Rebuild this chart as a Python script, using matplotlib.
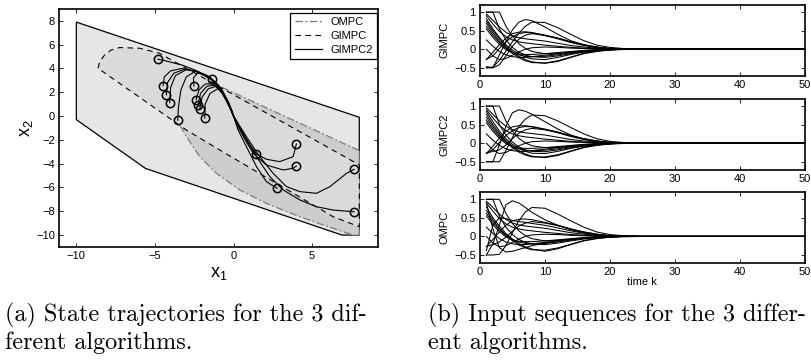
import matplotlib.pyplot as plt
from matplotlib.lines import Line2D

plt.rcParams['font.family'] = ['Liberation Sans', 'DejaVu Sans']
plt.rcParams['mathtext.default'] = 'regular'

# ---------------- left panel: regions in the (x1, x2) plane ----------------
outer_x = [-10, 8, 8, 6.9, -5.6, -10]
outer_y = [7.9, -0.1, -10, -10, -4.4, -0.3]

ompc_x = [-4.9, 8, 8, 7.61, 6.34, 4.22, 2.09, 0.40, -1.09, -2.15, -3.0, -3.53, -4.06, -4.48]
ompc_y = [4.95, -2.9, -10, -10.0, -9.44, -8.46, -7.34, -6.21, -4.81, -3.41, -1.73, -0.47, 0.80, 2.76]

gimpc_x = [-8.62, -8.51, -8.2, -7.77, -7.24, -5.97, -4.70, -3.8, 8, 8, 6.34, -0.88, -3.0]
gimpc_y = [4.02, 4.58, 5.14, 5.56, 5.76, 5.70, 5.28, 4.6, -4.1, -9.3, -8.46, -2.85, -1.17]

# state trajectories (first point = initial state, marked by a circle)
traj_x = [
    [-4.80, -4.2, -3.3, -2.5, -1.6, -0.9, -0.45, -0.15, 0.0],
    [-4.48, -4.4, -4.0, -3.3, -2.5, -1.5, -0.8, -0.4, -0.12, 0.0],
    [-4.27, -4.2, -3.8, -3.1, -2.3, -1.4, -0.75, -0.35, -0.1, 0.0],
    [-4.06, -4.0, -3.7, -3.0, -2.2, -1.35, -0.7, -0.3, -0.08, 0.0],
    [-3.55, -3.5, -3.35, -3.0, -2.4, -1.5, -0.8, -0.35, -0.1, 0.0],
    [-2.52, -2.55, -2.3, -1.8, -1.2, -0.7, -0.35, -0.1, 0.0],
    [-2.38, -2.2, -1.8, -1.3, -0.8, -0.45, -0.15, 0.0],
    [-2.26, -2.1, -1.7, -1.2, -0.75, -0.4, -0.12, 0.0],
    [-2.15, -2.0, -1.6, -1.1, -0.7, -0.38, -0.1, 0.0],
    [-1.83, -1.8, -1.5, -1.0, -0.6, -0.3, -0.08, 0.0],
    [-1.37, -0.95, -0.6, -0.3, -0.08, 0.0],
    [4.0, 3.79, 2.94, 2.09, 1.46, 0.82, 0.29, 0.0],
    [4.0, 3.79, 3.16, 2.09, 1.25, 0.7, 0.25, 0.0],
    [7.67, 7.19, 6.13, 5.28, 4.22, 3.37, 2.52, 1.67, 0.82, 0.29, 0.0],
    [7.67, 6.34, 5.28, 4.22, 3.16, 2.31, 1.46, 0.61, 0.2, 0.0],
    [2.77, 2.09, 1.46, 0.82, 0.29, 0.0],
    [1.46, 1.1, 0.7, 0.3, 0.0],
]
traj_y = [
    [4.78, 4.6, 4.3, 3.9, 3.3, 2.4, 1.4, 0.5, 0.0],
    [2.56, 3.3, 3.8, 4.0, 3.8, 3.2, 2.3, 1.3, 0.45, 0.0],
    [1.78, 2.8, 3.6, 3.95, 3.75, 3.1, 2.2, 1.2, 0.4, 0.0],
    [1.13, 2.4, 3.4, 3.9, 3.7, 3.0, 2.1, 1.1, 0.35, 0.0],
    [-0.35, 0.8, 2.2, 3.3, 3.8, 3.3, 2.3, 1.2, 0.4, 0.0],
    [2.53, 3.2, 3.6, 3.5, 2.9, 2.0, 1.1, 0.35, 0.0],
    [1.38, 2.2, 2.7, 2.7, 2.1, 1.3, 0.45, 0.0],
    [0.94, 1.9, 2.5, 2.6, 2.0, 1.2, 0.4, 0.0],
    [0.57, 1.6, 2.3, 2.5, 1.9, 1.1, 0.35, 0.0],
    [-0.18, 1.0, 1.9, 2.3, 1.8, 1.0, 0.3, 0.0],
    [3.09, 2.6, 1.8, 1.0, 0.3, 0.0],
    [-2.34, -3.41, -3.83, -3.63, -3.19, -2.0, -0.89, 0.0],
    [-4.2, -4.39, -4.53, -4.11, -3.13, -1.9, -0.8, 0.0],
    [-4.48, -4.81, -5.93, -6.49, -6.35, -5.93, -4.81, -3.41, -1.73, -0.61, 0.0],
    [-8.04, -7.9, -7.62, -7.05, -6.21, -5.09, -3.41, -1.45, -0.45, 0.0],
    [-6.07, -5.51, -4.25, -2.57, -1.17, 0.0],
    [-3.19, -2.6, -1.7, -0.75, 0.0],
]

# ---------------- right panels: input sequences ----------------
k = [1, 2, 3, 4, 5, 6, 7, 8, 10, 12, 14, 16, 18, 20, 22, 25, 50]

u_gimpc = [
    [1.0, 1.0, 1.0, 0.62, 0.35, 0.15, 0.02, -0.06, -0.12, -0.11, -0.08, -0.05, -0.03, -0.01, 0, 0, 0],
    [1.0, 1.0, 0.55, 0.25, 0.05, -0.08, -0.16, -0.2, -0.22, -0.18, -0.12, -0.07, -0.03, -0.01, 0, 0, 0],
    [0.82, 0.55, 0.32, 0.12, -0.02, -0.13, -0.21, -0.26, -0.28, -0.22, -0.14, -0.08, -0.04, -0.02, 0, 0, 0],
    [0.76, 0.5, 0.28, 0.08, -0.07, -0.19, -0.28, -0.34, -0.38, -0.33, -0.22, -0.12, -0.06, -0.02, -0.01, 0, 0],
    [0.7, 0.44, 0.22, 0.04, -0.11, -0.23, -0.31, -0.36, -0.37, -0.31, -0.21, -0.11, -0.05, -0.02, 0, 0, 0],
    [0.62, 0.38, 0.18, 0.03, -0.08, -0.15, -0.19, -0.2, -0.19, -0.15, -0.1, -0.05, -0.02, -0.01, 0, 0, 0],
    [0.55, 0.32, 0.13, -0.01, -0.1, -0.13, -0.14, -0.14, -0.12, -0.09, -0.06, -0.03, -0.01, 0, 0, 0, 0],
    [-0.5, -0.5, -0.15, 0.2, 0.52, 0.73, 0.8, 0.77, 0.6, 0.4, 0.23, 0.12, 0.05, 0.02, 0.01, 0, 0],
    [-0.5, -0.48, -0.3, -0.05, 0.2, 0.43, 0.62, 0.73, 0.72, 0.58, 0.4, 0.23, 0.11, 0.05, 0.02, 0, 0],
    [-0.28, -0.08, 0.12, 0.3, 0.42, 0.46, 0.47, 0.45, 0.38, 0.3, 0.2, 0.12, 0.06, 0.02, 0.01, 0, 0],
    [-0.27, -0.18, 0.02, 0.2, 0.34, 0.42, 0.45, 0.44, 0.37, 0.28, 0.18, 0.1, 0.04, 0.01, 0, 0, 0],
    [0.25, 0.08, -0.06, -0.15, -0.2, -0.22, -0.22, -0.2, -0.16, -0.12, -0.08, -0.04, -0.02, -0.01, 0, 0, 0],
    [0.95, 0.78, 0.6, 0.46, 0.36, 0.31, 0.28, 0.26, 0.22, 0.16, 0.1, 0.06, 0.03, 0.01, 0, 0, 0],
    [0.9, 0.68, 0.48, 0.34, 0.25, 0.2, 0.17, 0.15, 0.11, 0.08, 0.05, 0.03, 0.01, 0, 0, 0, 0],
    [-0.47, -0.5, -0.42, -0.18, 0.08, 0.27, 0.38, 0.42, 0.37, 0.3, 0.2, 0.12, 0.06, 0.02, 0.01, 0, 0],
    [0.0, -0.18, -0.28, -0.25, -0.16, -0.07, 0.0, 0.04, 0.06, 0.05, 0.03, 0.02, 0.01, 0, 0, 0, 0],
]

u_gimpc2 = [
    [1.0, 1.0, 1.0, 0.6, 0.33, 0.13, 0.01, -0.07, -0.12, -0.11, -0.08, -0.05, -0.03, -0.01, 0, 0, 0],
    [1.0, 1.0, 0.5, 0.22, 0.03, -0.1, -0.18, -0.22, -0.23, -0.18, -0.12, -0.07, -0.03, -0.01, 0, 0, 0],
    [0.85, 0.58, 0.33, 0.12, -0.03, -0.14, -0.22, -0.27, -0.28, -0.22, -0.14, -0.08, -0.04, -0.02, 0, 0, 0],
    [0.78, 0.5, 0.27, 0.07, -0.08, -0.2, -0.29, -0.35, -0.39, -0.33, -0.22, -0.12, -0.06, -0.02, -0.01, 0, 0],
    [0.7, 0.44, 0.22, 0.03, -0.12, -0.24, -0.32, -0.37, -0.37, -0.31, -0.21, -0.11, -0.05, -0.02, 0, 0, 0],
    [0.62, 0.38, 0.18, 0.03, -0.08, -0.15, -0.19, -0.2, -0.19, -0.15, -0.1, -0.05, -0.02, -0.01, 0, 0, 0],
    [0.55, 0.32, 0.13, -0.01, -0.1, -0.13, -0.14, -0.14, -0.12, -0.09, -0.06, -0.03, -0.01, 0, 0, 0, 0],
    [-0.5, -0.5, -0.05, 0.45, 0.82, 0.9, 0.86, 0.78, 0.58, 0.38, 0.22, 0.11, 0.05, 0.02, 0.01, 0, 0],
    [-0.5, -0.5, -0.5, -0.2, 0.15, 0.45, 0.65, 0.76, 0.74, 0.6, 0.42, 0.25, 0.12, 0.05, 0.02, 0, 0],
    [-0.28, -0.08, 0.14, 0.32, 0.44, 0.47, 0.47, 0.45, 0.38, 0.3, 0.2, 0.12, 0.06, 0.02, 0.01, 0, 0],
    [-0.27, -0.18, 0.02, 0.2, 0.34, 0.42, 0.45, 0.44, 0.37, 0.28, 0.18, 0.1, 0.04, 0.01, 0, 0, 0],
    [0.25, 0.08, -0.06, -0.15, -0.2, -0.22, -0.22, -0.2, -0.16, -0.12, -0.08, -0.04, -0.02, -0.01, 0, 0, 0],
    [0.95, 0.78, 0.6, 0.46, 0.36, 0.31, 0.28, 0.26, 0.22, 0.16, 0.1, 0.06, 0.03, 0.01, 0, 0, 0],
    [0.9, 0.68, 0.48, 0.34, 0.25, 0.2, 0.17, 0.15, 0.11, 0.08, 0.05, 0.03, 0.01, 0, 0, 0, 0],
    [-0.27, -0.22, -0.18, -0.05, 0.12, 0.27, 0.36, 0.4, 0.36, 0.29, 0.2, 0.12, 0.06, 0.02, 0.01, 0, 0],
    [0.0, -0.18, -0.28, -0.25, -0.16, -0.07, 0.0, 0.04, 0.06, 0.05, 0.03, 0.02, 0.01, 0, 0, 0, 0],
]

u_ompc = [
    [1.0, 1.0, 1.0, 0.62, 0.35, 0.15, 0.02, -0.06, -0.12, -0.11, -0.08, -0.05, -0.03, -0.01, 0, 0, 0],
    [1.0, 1.0, 0.55, 0.25, 0.05, -0.08, -0.16, -0.2, -0.22, -0.18, -0.12, -0.07, -0.03, -0.01, 0, 0, 0],
    [0.9, 0.2, -0.3, -0.42, -0.4, -0.35, -0.3, -0.25, -0.18, -0.12, -0.07, -0.04, -0.02, -0.01, 0, 0, 0],
    [0.8, 0.5, 0.28, 0.08, -0.07, -0.19, -0.28, -0.34, -0.4, -0.33, -0.22, -0.12, -0.06, -0.02, -0.01, 0, 0],
    [0.7, 0.44, 0.22, 0.04, -0.11, -0.23, -0.31, -0.36, -0.37, -0.31, -0.21, -0.11, -0.05, -0.02, 0, 0, 0],
    [0.62, 0.38, 0.18, 0.03, -0.08, -0.15, -0.19, -0.2, -0.19, -0.15, -0.1, -0.05, -0.02, -0.01, 0, 0, 0],
    [0.55, 0.32, 0.13, -0.01, -0.1, -0.13, -0.14, -0.14, -0.12, -0.09, -0.06, -0.03, -0.01, 0, 0, 0, 0],
    [-0.5, -0.2, 0.3, 0.85, 0.96, 0.9, 0.78, 0.65, 0.45, 0.3, 0.18, 0.1, 0.04, 0.02, 0.01, 0, 0],
    [-0.5, -0.5, -0.48, -0.25, 0.1, 0.42, 0.66, 0.78, 0.76, 0.6, 0.42, 0.25, 0.12, 0.05, 0.02, 0, 0],
    [-0.28, -0.08, 0.12, 0.3, 0.42, 0.46, 0.47, 0.45, 0.38, 0.3, 0.2, 0.12, 0.06, 0.02, 0.01, 0, 0],
    [-0.38, 0.3, 0.5, 0.48, 0.43, 0.4, 0.38, 0.35, 0.3, 0.23, 0.15, 0.09, 0.04, 0.01, 0, 0, 0],
    [0.25, 0.08, -0.06, -0.15, -0.2, -0.22, -0.22, -0.2, -0.16, -0.12, -0.08, -0.04, -0.02, -0.01, 0, 0, 0],
    [0.95, 0.78, 0.6, 0.46, 0.36, 0.31, 0.28, 0.26, 0.22, 0.16, 0.1, 0.06, 0.03, 0.01, 0, 0, 0],
    [0.9, 0.68, 0.48, 0.34, 0.25, 0.2, 0.17, 0.15, 0.11, 0.08, 0.05, 0.03, 0.01, 0, 0, 0, 0],
    [-0.27, -0.22, -0.15, -0.02, 0.14, 0.28, 0.36, 0.4, 0.36, 0.29, 0.2, 0.12, 0.06, 0.02, 0.01, 0, 0],
    [0.0, -0.18, -0.28, -0.25, -0.16, -0.07, 0.0, 0.04, 0.06, 0.05, 0.03, 0.02, 0.01, 0, 0, 0, 0],
]

panel_names = ['GIMPC', 'GIMPC2', 'OMPC']
caption_a = ['(a) State trajectories for the 3 dif-', 'ferent algorithms.']
caption_b = ['(b) Input sequences for the 3 differ-', 'ent algorithms.']


def matlab_axes(ax, fs=8):
    for s in ax.spines.values():
        s.set_linewidth(1.2)
    ax.tick_params(direction='in', top=True, right=True, length=3, width=0.6,
                   labelsize=fs, pad=3)


fig = plt.figure(figsize=(8.12, 3.6), dpi=100)

# ---- left: state space ----
ax = fig.add_axes([0.0727, 0.314, 0.393, 0.661])
ax.fill(outer_x, outer_y, fc='#e6e6e6', ec='k', lw=0.9, zorder=1)
ompc = ax.fill(ompc_x, ompc_y, fc='#cdcdcd', ec='#7a7a7a', lw=0.9, zorder=2)[0]
ompc.set_linestyle((0, (6, 2, 1.5, 2)))
gim = ax.fill(gimpc_x, gimpc_y, fc='#dadada', ec='k', lw=0.8, zorder=3)[0]
gim.set_linestyle((0, (5, 4)))

for xs, ys in zip(traj_x, traj_y):
    ax.plot(xs, ys, color='k', lw=0.8, zorder=4)
    ax.plot(xs[0], ys[0], 'o', mfc='none', mec='k', ms=6, mew=1.1, zorder=5)

ax.set_xlim(-11.1, 9.2)
ax.set_ylim(-11, 9)
ax.set_xticks([-10, -5, 0, 5])
ax.set_yticks(range(-10, 9, 2))
ax.set_xticklabels(['\u221210', '\u22125', '0', '5'])
ax.set_yticklabels(['\u221210', '\u22128', '\u22126', '\u22124', '\u22122', '0', '2', '4', '6', '8'])
matlab_axes(ax)
ax.set_xlabel('$x_1$', fontsize=13, labelpad=3)
ax.set_ylabel('$x_2$', fontsize=13, labelpad=1)

handles = [Line2D([], [], color='#7a7a7a', lw=0.9, ls=(0, (6, 2, 1.5, 2))),
           Line2D([], [], color='k', lw=0.8, ls=(0, (5, 4))),
           Line2D([], [], color='k', lw=0.9)]
leg = ax.legend(handles, ['OMPC', 'GIMPC', 'GIMPC2'], loc='upper right',
                bbox_to_anchor=(0.997, 0.985), fontsize=8, fancybox=False,
                framealpha=1, edgecolor='k', borderpad=0.4, handlelength=2.5,
                labelspacing=0.35, handletextpad=0.7, borderaxespad=0)
leg.get_frame().set_linewidth(0.9)
leg.set_zorder(10)

# ---- right: input sequences ----
bottoms = [0.789, 0.528, 0.269]
for name, data, b in zip(panel_names, [u_gimpc, u_gimpc2, u_ompc], bottoms):
    axr = fig.add_axes([0.591, b, 0.400, 0.198])
    for u in data:
        axr.plot(k, u, color='k', lw=0.75)
    axr.set_xlim(0, 50)
    axr.set_ylim(-0.72, 1.2)
    axr.set_xticks(range(0, 51, 10))
    axr.set_yticks([-0.5, 0, 0.5, 1])
    axr.set_yticklabels(['\u22120.5', '0', '0.5', '1'])
    matlab_axes(axr)
    axr.set_ylabel(name, fontsize=8, labelpad=3)
    if name == 'OMPC':
        axr.set_xlabel('time k', fontsize=8, labelpad=0)

# ---- captions ----
for i, line in enumerate(caption_a):
    fig.text(0.006, 0.124 - i * 0.077, line, family='cmr10', fontsize=17.4, va='center')
for i, line in enumerate(caption_b):
    fig.text(0.527, 0.124 - i * 0.077, line, family='cmr10', fontsize=17.4, va='center')

fig.savefig('out.png', dpi=100)
